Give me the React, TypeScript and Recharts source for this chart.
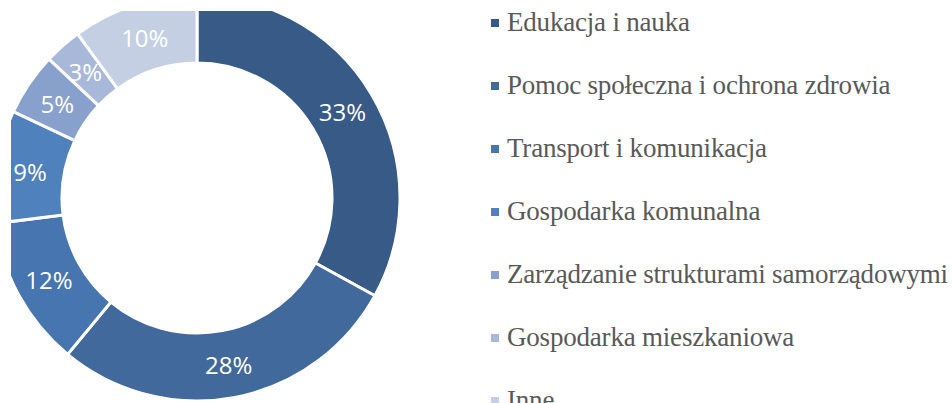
import { Cell, Legend, Pie, PieChart } from "recharts";

const categories = [
  "Edukacja i nauka",
  "Pomoc społeczna i ochrona zdrowia",
  "Transport i komunikacja",
  "Gospodarka komunalna",
  "Zarządzanie strukturami samorządowymi",
  "Gospodarka mieszkaniowa",
  "Inne",
];
const shares = [33, 28, 12, 9, 5, 3, 10];
const colors = [
  "#375A87",
  "#41699C",
  "#4775AF",
  "#4F81BD",
  "#87A1CC",
  "#A8B8D9",
  "#C4CFE3",
];

const data = categories.map((name, i) => ({ name, value: shares[i] }));

const RADIAN = Math.PI / 180;

const renderLabel = (props: any) => {
  const { cx, cy, midAngle, innerRadius, outerRadius, value } = props;
  const r = (innerRadius + outerRadius) / 2;
  const x = cx + r * Math.cos(-midAngle * RADIAN);
  const y = cy + r * Math.sin(-midAngle * RADIAN);
  return (
    <text
      x={x}
      y={y}
      fill="#ffffff"
      textAnchor="middle"
      dominantBaseline="central"
      fontFamily="'Open Sans', sans-serif"
      fontSize={24}
    >
      {`${value}%`}
    </text>
  );
};

// legend drawn in data order (the default legend sorts by name)
const renderLegend = () => (
  <div>
    {categories.map((name, i) => (
      <div
        key={name}
        style={{
          height: 63,
          display: "flex",
          alignItems: "center",
          whiteSpace: "nowrap",
        }}
      >
        <span
          style={{
            width: 8,
            height: 8,
            background: colors[i],
            marginRight: 8,
            flexShrink: 0,
          }}
        />
        <span
          style={{
            fontFamily: "'Liberation Serif', serif",
            fontSize: 27,
            color: "#595959",
            letterSpacing: -0.2,
          }}
        >
          {name}
        </span>
      </div>
    ))}
  </div>
);

export default function App() {
  return (
    <div
      style={{
        position: "absolute",
        left: 0,
        top: 0,
        width: 952,
        height: 403,
        overflow: "hidden",
        background: "#ffffff",
      }}
    >
      <PieChart
        width={952}
        height={403}
        margin={{ top: 0, right: 0, bottom: 0, left: 0 }}
      >
        <Pie
          data={data}
          dataKey="value"
          nameKey="name"
          cx={197}
          cy={198}
          innerRadius={135}
          outerRadius={203}
          startAngle={90}
          endAngle={-270}
          stroke="#ffffff"
          strokeWidth={3}
          label={renderLabel}
          labelLine={false}
          isAnimationActive={false}
        >
          {data.map((_, i) => (
            <Cell key={i} fill={colors[i]} />
          ))}
        </Pie>
        <Legend
          layout="vertical"
          verticalAlign="top"
          align="right"
          content={renderLegend}
          wrapperStyle={{ left: 491, top: -9, width: 470 }}
        />
      </PieChart>
      <div
        style={{
          position: "absolute",
          left: 0,
          top: 0,
          width: 11,
          height: 403,
          background: "#ffffff",
        }}
      />
      <div
        style={{
          position: "absolute",
          left: 0,
          top: 0,
          width: 420,
          height: 11,
          background: "#ffffff",
        }}
      />
    </div>
  );
}
